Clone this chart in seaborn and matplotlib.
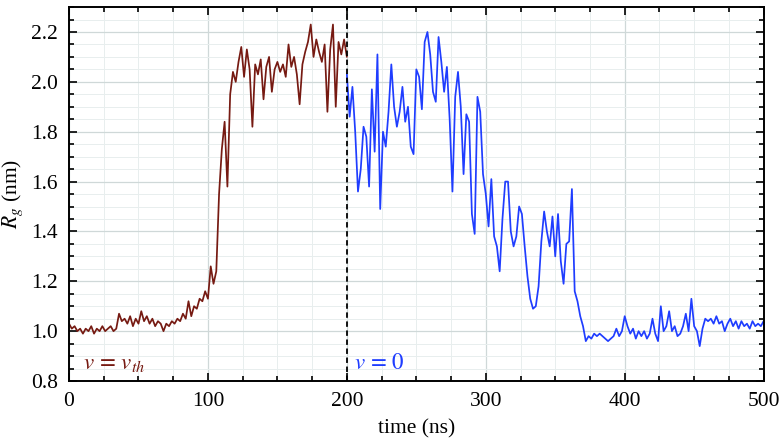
import numpy as np
import pandas as pd
import matplotlib
matplotlib.use("Agg")
import matplotlib.pyplot as plt
import seaborn as sns
from matplotlib.ticker import MultipleLocator

# ---- data ----
t_drive = list(range(0, 201, 2))
rg_drive = [1.03, 1.01, 1.02, 1.00, 1.01, 0.99, 1.01, 1.00, 1.02, 0.99,
            1.01, 1.00, 1.02, 1.00, 1.01, 1.02, 1.00, 1.01, 1.07, 1.04,
            1.05, 1.03, 1.06, 1.02, 1.05, 1.03, 1.08, 1.04, 1.06, 1.03,
            1.05, 1.02, 1.04, 1.03, 1.00, 1.03, 1.02, 1.04, 1.03, 1.05,
            1.04, 1.07, 1.05, 1.12, 1.06, 1.10, 1.09, 1.13, 1.12, 1.16,
            1.13, 1.26, 1.19, 1.24, 1.55, 1.73, 1.84, 1.58, 1.95, 2.04,
            2.00, 2.08, 2.14, 2.02, 2.13, 2.05, 1.82, 2.07, 2.03, 2.09,
            1.93, 2.06, 2.10, 1.96, 2.05, 2.08, 2.04, 2.07, 2.02, 2.15,
            2.06, 2.10, 2.03, 1.91, 2.07, 2.12, 2.16, 2.23, 2.10, 2.17,
            2.12, 2.08, 2.15, 1.88, 2.13, 2.23, 1.90, 2.16, 2.11, 2.17,
            2.10]

t_free = list(range(200, 501, 2))
rg_free = [2.03, 1.86, 1.98, 1.80, 1.56, 1.65, 1.82, 1.78, 1.58, 1.97,
           1.72, 2.11, 1.49, 1.80, 1.74, 1.88, 2.07, 1.90, 1.82, 1.88,
           1.98, 1.84, 1.90, 1.74, 1.71, 2.05, 2.02, 1.89, 2.16, 2.20,
           2.11, 1.96, 1.92, 2.18, 2.08, 1.96, 2.06, 1.85, 1.56, 1.94,
           2.04, 1.90, 1.63, 1.87, 1.84, 1.47, 1.39, 1.94, 1.88, 1.63,
           1.55, 1.42, 1.61, 1.38, 1.34, 1.24, 1.45, 1.60, 1.60, 1.40,
           1.34, 1.38, 1.50, 1.47, 1.34, 1.22, 1.13, 1.09, 1.10, 1.18,
           1.36, 1.48, 1.40, 1.34, 1.46, 1.30, 1.47, 1.28, 1.19, 1.35,
           1.36, 1.57, 1.16, 1.12, 1.06, 1.02, 0.96, 0.98, 0.97, 0.99,
           0.98, 0.99, 0.98, 0.97, 0.96, 0.97, 0.98, 1.01, 0.98, 1.00,
           1.06, 1.02, 0.99, 1.01, 0.97, 1.00, 0.98, 1.00, 0.97, 0.99,
           1.05, 0.99, 0.96, 1.10, 1.00, 1.02, 1.08, 1.00, 1.02, 0.98,
           0.99, 1.02, 1.07, 1.00, 1.13, 1.02, 1.00, 0.94, 1.01, 1.05,
           1.04, 1.05, 1.03, 1.06, 1.03, 1.04, 1.00, 1.03, 1.05, 1.02,
           1.04, 1.01, 1.04, 1.02, 1.03, 1.01, 1.04, 1.02, 1.03, 1.02,
           1.04]

label_drive = r"$v\,=\,v_{th}$"
label_free = r"$v\,=\,0$"
xlabel = "time (ns)"
ylabel = r"$R_g$ (nm)"

c_drive = "#761a12"
c_free = "#1f3dff"

# ---- style ----
sns.set_theme(style="ticks")
plt.rcParams["font.family"] = ["Liberation Serif", "DejaVu Serif"]
plt.rcParams["mathtext.fontset"] = "stix"
plt.rcParams["font.size"] = 15
plt.rcParams["text.color"] = "black"
plt.rcParams["axes.labelcolor"] = "black"

fig = plt.figure(figsize=(7.8, 4.41), dpi=100)
ax = fig.add_axes([0.0885, 0.136, 0.8905, 0.848])

df_d = pd.DataFrame({"t": t_drive, "rg": rg_drive})
df_f = pd.DataFrame({"t": t_free, "rg": rg_free})
sns.lineplot(data=df_d, x="t", y="rg", ax=ax, color=c_drive, lw=1.25)
sns.lineplot(data=df_f, x="t", y="rg", ax=ax, color=c_free, lw=1.25)

ax.axvline(200, color="black", ls=(0, (3, 2)), lw=1.3, zorder=5)

ax.set_xlim(0, 500)
ax.set_ylim(0.8, 2.3)
ax.xaxis.set_major_locator(MultipleLocator(100))
ax.xaxis.set_minor_locator(MultipleLocator(25))
ax.yaxis.set_minor_locator(MultipleLocator(0.05))
ax.set_yticks(np.arange(0.8, 2.21, 0.2))
ax.set_yticklabels([f"{v:.1f}" for v in np.arange(0.8, 2.21, 0.2)])

ax.grid(which="major", color="#cfd8d8", lw=0.9)
ax.grid(which="minor", color="#e8eeee", lw=0.7)
ax.set_axisbelow(True)

ax.tick_params(which="both", direction="in", top=True, right=True,
               labelsize=15.5, colors="black", labelcolor="black", width=1.2)
ax.tick_params(which="major", length=6)
ax.tick_params(which="minor", length=3.5)
ax.tick_params(axis="x", which="major", pad=8)
ax.tick_params(axis="y", which="major", pad=8)
for s in ax.spines.values():
    s.set_linewidth(1.4)
    s.set_color("black")

ax.set_xlabel(xlabel, fontsize=15.5, labelpad=6, color="black")
ax.set_ylabel(ylabel, fontsize=15.5, labelpad=4, color="black")

ax.text(10, 0.87, label_drive, color=c_drive, fontsize=16.5, va="center")
ax.text(205, 0.87, label_free, color=c_free, fontsize=16.5, va="center")

fig.savefig("out.png", dpi=100)
